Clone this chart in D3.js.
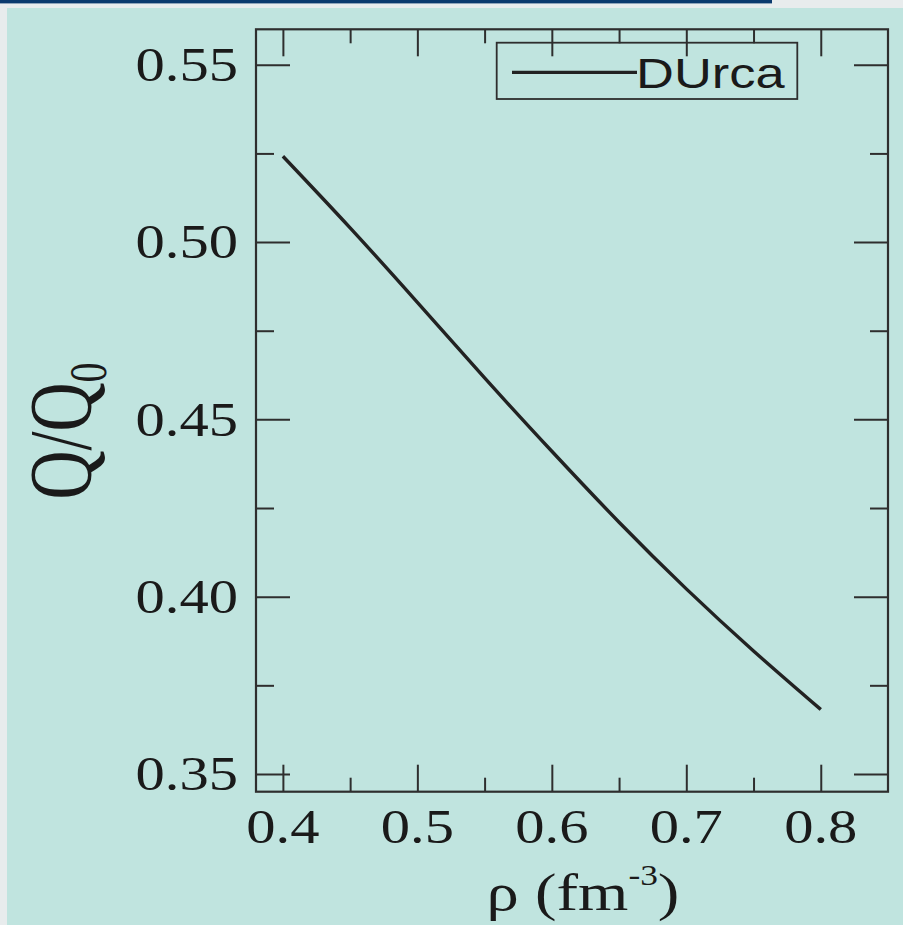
<!DOCTYPE html>
<html>
<head>
<meta charset="utf-8">
<script src="https://cdn.jsdelivr.net/npm/d3@7"></script>
<style>
  html, body { margin: 0; padding: 0; background: #e8eced; }
  svg { display: block; }
</style>
</head>
<body>
<svg id="chart" width="903" height="925"></svg>
<script>
// Direct Urca emissivity ratio vs baryon density
const densities = [0.40, 0.45, 0.50, 0.55, 0.60, 0.65, 0.70, 0.75, 0.80];
const qRatio    = [0.5242, 0.5040, 0.4830, 0.4617, 0.4410, 0.4210, 0.4022, 0.3847, 0.3682];

const xMajor = [0.4, 0.5, 0.6, 0.7, 0.8];
const xMinor = [0.45, 0.55, 0.65, 0.75];
const yMajor = [0.35, 0.40, 0.45, 0.50, 0.55];
const yMinor = [0.375, 0.425, 0.475, 0.525];
const xTickLabels = ["0.4", "0.5", "0.6", "0.7", "0.8"];
const yTickLabels = ["0.35", "0.40", "0.45", "0.50", "0.55"];
const seriesName = "DUrca";

const W = 903, H = 925;
const stretch = 1.22;            // horizontal stretch applied to text
const plot = { left: 256, right: 888, top: 29.3, bottom: 791.7 };

const svg = d3.select("#chart");

// page chrome: header strip and panel background
svg.append("rect").attr("x", 0).attr("y", 0).attr("width", W).attr("height", H).attr("fill", "#e8eced");
svg.append("rect").attr("x", 0).attr("y", 0).attr("width", 772).attr("height", 3.4).attr("fill", "#0b3a6e");
svg.append("rect").attr("x", 7).attr("y", 8).attr("width", W - 7).attr("height", H - 8).attr("fill", "#c0e4df");

const x = d3.scaleLinear().domain([0.38, 0.85]).range([plot.left, plot.right]);
const y = d3.scaleLinear().domain([0.345, 0.56]).range([plot.bottom, plot.top]);

const ink = "#2e2e2e";

function tickAxis(axisFn, scale, values, size, tx, ty) {
  const g = svg.append("g")
    .attr("transform", `translate(${tx},${ty})`)
    .call(axisFn(scale).tickValues(values).tickSize(size).tickFormat(""));
  g.select(".domain").remove();
  g.selectAll(".tick line").attr("stroke", ink).attr("stroke-width", 2);
  return g;
}

// inward ticks on all four sides
tickAxis(d3.axisBottom, x, xMajor, -27, 0, plot.bottom);
tickAxis(d3.axisBottom, x, xMinor, -14, 0, plot.bottom);
tickAxis(d3.axisTop, x, xMajor, -27, 0, plot.top);
tickAxis(d3.axisTop, x, xMinor, -14, 0, plot.top);
tickAxis(d3.axisLeft, y, yMajor, -34, plot.left, 0);
tickAxis(d3.axisLeft, y, yMinor, -18, plot.left, 0);
tickAxis(d3.axisRight, y, yMajor, -34, plot.right, 0);
tickAxis(d3.axisRight, y, yMinor, -18, plot.right, 0);

// frame
svg.append("rect")
  .attr("x", plot.left).attr("y", plot.top)
  .attr("width", plot.right - plot.left).attr("height", plot.bottom - plot.top)
  .attr("fill", "none").attr("stroke", ink).attr("stroke-width", 2.2);

// tick labels
const serif = "'Liberation Serif', 'Times New Roman', serif";
svg.append("g").selectAll("text").data(xMajor).join("text")
  .attr("transform", d => `translate(${x(d)},843) scale(${stretch},1)`)
  .attr("text-anchor", "middle")
  .attr("font-family", serif).attr("font-size", 48).attr("fill", "#1a1a1a")
  .text((d, i) => xTickLabels[i]);

svg.append("g").selectAll("text").data(yMajor).join("text")
  .attr("transform", d => `translate(238,${y(d)}) scale(${stretch},1)`)
  .attr("text-anchor", "end").attr("dominant-baseline", "central")
  .attr("font-family", serif).attr("font-size", 48).attr("fill", "#1a1a1a")
  .text((d, i) => yTickLabels[i]);

// axis titles
const xt = svg.append("text")
  .attr("transform", `translate(583,910) scale(${stretch},1)`)
  .attr("text-anchor", "middle")
  .attr("font-family", serif).attr("font-size", 53).attr("fill", "#1a1a1a");
xt.append("tspan").text("ρ (fm");
xt.append("tspan").attr("font-size", 29).attr("dy", -25).text("-3");
xt.append("tspan").attr("dy", 25).text(")");

const yt = svg.append("text")
  .attr("transform", `translate(90,431) rotate(-90) scale(1,1.3)`)
  .attr("text-anchor", "middle")
  .attr("font-family", serif).attr("font-size", 68).attr("fill", "#1a1a1a");
yt.append("tspan").text("Q/Q");
yt.append("tspan").attr("font-size", 40).attr("dy", 12).text("0");

// curve
const line = d3.line()
  .x((d, i) => x(densities[i]))
  .y(d => y(d))
  .curve(d3.curveNatural);

svg.append("path")
  .datum(qRatio)
  .attr("d", line)
  .attr("fill", "none")
  .attr("stroke", "#222")
  .attr("stroke-width", 3.4);

// legend
const leg = svg.append("g");
leg.append("rect")
  .attr("x", 496.7).attr("y", 42.7).attr("width", 300.6).attr("height", 56.3)
  .attr("fill", "none").attr("stroke", ink).attr("stroke-width", 1.8);
leg.append("line")
  .attr("x1", 512).attr("x2", 637).attr("y1", 72.3).attr("y2", 72.3)
  .attr("stroke", "#222").attr("stroke-width", 3.2);
leg.append("text")
  .attr("transform", `translate(636,88.3) scale(${stretch},1)`)
  .attr("font-family", "'Liberation Sans', Arial, sans-serif")
  .attr("font-size", 43).attr("fill", "#1a1a1a")
  .text(seriesName);
</script>
</body>
</html>
